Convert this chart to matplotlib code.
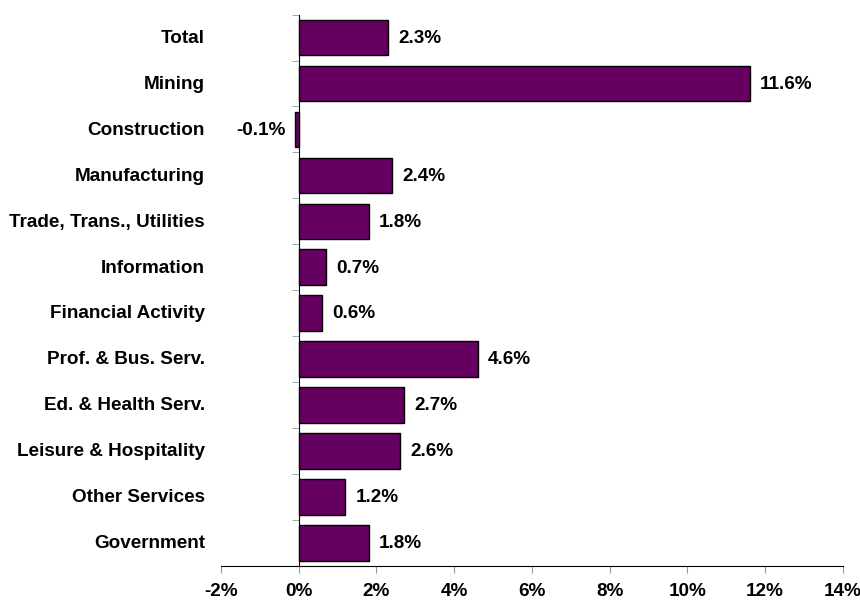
import matplotlib
matplotlib.use("Agg")
import matplotlib.pyplot as plt
import numpy as np

categories = ["Total", "Mining", "Construction", "Manufacturing",
              "Trade, Trans., Utilities", "Information", "Financial Activity",
              "Prof. & Bus. Serv.", "Ed. & Health Serv.", "Leisure & Hospitality",
              "Other Services", "Government"]
growth = [2.3, 11.6, -0.1, 2.4, 1.8, 0.7, 0.6, 4.6, 2.7, 2.6, 1.2, 1.8]
xticks = [-2, 0, 2, 4, 6, 8, 10, 12, 14]

plt.rcParams['font.family'] = ['Liberation Sans', 'DejaVu Sans']
FS = 13.6

fig = plt.figure(figsize=(8.6, 6.03), dpi=100)
ax = fig.add_axes([0.257, 0.0614, 0.723, 0.9144])

n = len(categories)
ypos = np.arange(n)
ax.barh(ypos, growth, height=0.777, color="#660060", edgecolor="black", linewidth=1.0, zorder=3)

ax.set_xlim(-2, 14)
ax.set_ylim(n - 0.5, -0.5)

# value labels beside each bar end
for y, v in zip(ypos, growth):
    ha = "left" if v >= 0 else "right"
    off = 7.5 if v >= 0 else -7
    ax.annotate(f"{v:.1f}%", xy=(v, y), xytext=(off, -0.5), textcoords="offset points",
                ha=ha, va="center", fontsize=FS, fontweight="bold")

# category names to the left of the plotting area
trans = matplotlib.transforms.blended_transform_factory(ax.transAxes, ax.transData)
for y, c in zip(ypos, categories):
    ax.annotate(c, xy=(-0.026, y), xycoords=trans, xytext=(0, -0.5),
                textcoords="offset points", ha="right", va="center",
                fontsize=FS, fontweight="bold")

# vertical axis at zero with ticks between categories
for s in ["top", "right"]:
    ax.spines[s].set_visible(False)
ax.spines["left"].set_position(("data", 0))
ax.spines["left"].set_color("black")
ax.set_yticks(ypos)
ax.set_yticklabels([])
ax.tick_params(axis="y", which="major", length=0)
ax.set_yticks(np.arange(n + 1) - 0.5, minor=True)
ax.tick_params(axis="y", which="minor", length=5, color="#999999", direction="out")

ax.set_xticks(xticks)
ax.set_xticklabels([f"{t}%" for t in xticks], fontsize=FS, fontweight="bold")
ax.tick_params(axis="x", length=5, color="#999999", direction="out", pad=7)

fig.savefig("out.png", dpi=100)
